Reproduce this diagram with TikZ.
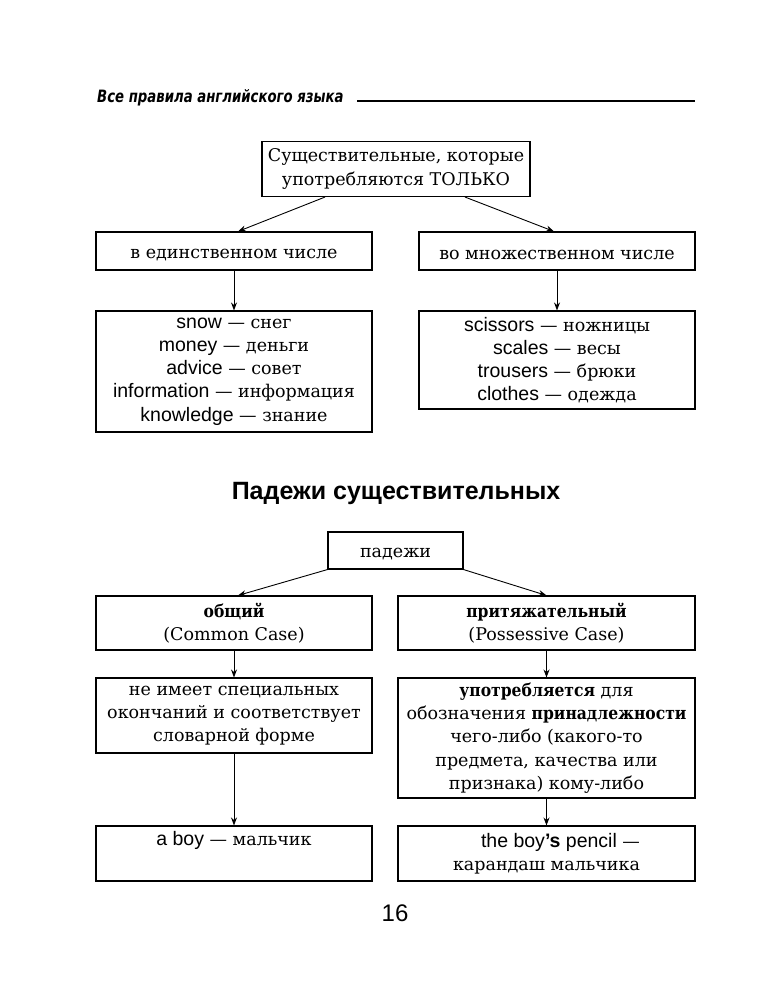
\documentclass[tikz,border=0pt]{standalone}
\usepackage{fontspec}
\usepackage{graphicx}
\setmainfont{DejaVu Serif}
\newfontfamily\sansf{Liberation Sans}
\newfontfamily\hdrf{DejaVu Sans}
\usetikzlibrary{arrows.meta}
\newcommand{\en}[1]{{\sansf\fontsize{19.5}{23}\selectfont #1}}
\newcommand{\bw}[1]{\scalebox{0.89}[1]{\textbf{#1}}}
\tikzset{
  box/.style={draw=black, line width=1.1pt, align=center, inner sep=0pt,
    font=\fontsize{17.5}{23.2}\selectfont,
    execute at begin node={\rule{0pt}{16.5pt}}},
  arr/.style={draw=black, line width=0.9pt, -{Stealth[length=8pt,width=6pt]}},
  wide/.style={minimum width=276pt},
}
\begin{document}
\begin{tikzpicture}[x=1pt,y=-1pt]
\useasboundingbox (0,0) rectangle (759,1000);
\fill[white] (0,0) rectangle (759,1000);
% header
\node[anchor=base west, inner sep=0pt] (hdr) at (97,103)
  {\scalebox{0.78}[1]{\hdrf\fontsize{17}{20}\selectfont\bfseries\itshape Все правила английского языка}};
\coordinate (hl1) at (357,101);
\coordinate (hl2) at (695,101);
\draw[line width=1.1pt] (hl1) -- (hl2);

% top part
\node[box, minimum width=268pt, minimum height=55pt] (top) at (396,169)
  {Существительные, которые\\употребляются ТОЛЬКО};
\node[box, wide, minimum height=38pt] (s1) at (234,251) {в единственном числе};
\node[box, wide, minimum height=38pt] (s2) at (557,251) {во множественном числе};
\node[box, wide, minimum height=121pt] (l1) at (234,371.5)
  {\en{snow} — снег\\\en{money} — деньги\\\en{advice} — совет\\\en{information} — информация\\\en{knowledge} — знание};
\node[box, wide, minimum height=98pt] (l2) at (557,360)
  {\en{scissors} — ножницы\\\en{scales} — весы\\\en{trousers} — брюки\\\en{clothes} — одежда};
\draw[arr] ([xshift=-71pt]top.south) -- ([xshift=4pt]s1.north);
\draw[arr] ([xshift=69pt]top.south) -- ([xshift=-3pt]s2.north);
\draw[arr] (s1.south) -- (l1.north);
\draw[arr] (s2.south) -- (l2.north);

% heading
\node[inner sep=0pt, font=\sansf\bfseries\fontsize{25}{28}\selectfont] (head) at (396,493) {Падежи существительных};

% bottom part
\node[box, minimum width=135pt, minimum height=37pt] (p) at (395.5,550.5) {падежи};
\node[box, wide, minimum height=54pt] (c1) at (234,623) {\bw{общий}\\(Common Case)};
\node[box, minimum width=297pt, minimum height=54pt] (c2) at (546.5,623) {\bw{притяжательный}\\(Possessive Case)};
\node[box, wide, minimum height=75pt] (d1) at (234,715.5)
  {не имеет специальных\\окончаний и соответствует\\словарной форме};
\node[box, minimum width=297pt, minimum height=120pt] (d2) at (546.5,738)
  {\bw{употребляется} для\\обозначения \bw{принадлежности}\\чего-либо (какого-то\\предмета, качества или\\признака) кому-либо};
\node[box, wide, minimum height=55pt] (e1) at (234,853.5)
  {\en{a boy} — мальчик\\\strut};
\node[box, minimum width=297pt, minimum height=55pt] (e2) at (546.5,853.5)
  {\hspace*{28pt}\en{the boy\textbf{’s} pencil} —\\карандаш мальчика};
\draw[arr] (p.south west) -- ([xshift=4pt]c1.north);
\draw[arr] (p.south east) -- (c2.north);
\draw[arr] (c1.south) -- (d1.north);
\draw[arr] (c2.south) -- (d2.north);
\draw[arr] (d1.south) -- (e1.north);
\draw[arr] (d2.south) -- (e2.north);

% page number
\node[inner sep=0pt, font=\sansf\fontsize{24}{26}\selectfont] (pg) at (395,913) {16};
\end{tikzpicture}
\end{document}
